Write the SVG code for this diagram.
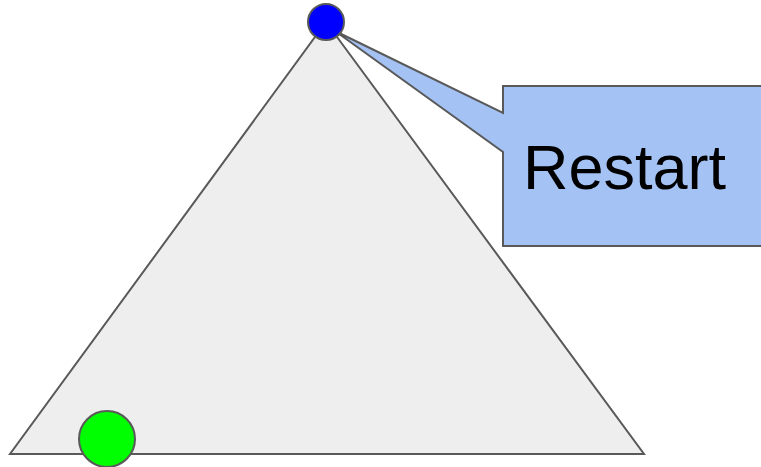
<svg xmlns="http://www.w3.org/2000/svg" width="761" height="467" viewBox="0 0 761 467">
<style>
.shape{stroke:#595959;stroke-width:2;stroke-linejoin:miter}
.lbl{font-family:"Liberation Sans",Arial,sans-serif;font-size:63px;fill:#000}
</style>
<rect width="761" height="467" fill="#ffffff"/>
<g id="triangle">
<polygon class="shape" points="326,22 644,454 10,454" fill="#eeeeee"/>
</g>
<g id="restart-callout">
<path class="shape" d="M503,86 H775 V246 H503 V152 L335,31 L503,113 Z" fill="#a4c2f4"/>
<text class="lbl" x="523" y="189">Restart</text>
</g>
<g id="blue-node">
<circle class="shape" cx="326" cy="22" r="18" fill="#0000ff"/>
</g>
<g id="green-node">
<circle class="shape" cx="107" cy="439" r="28" fill="#00ff00"/>
</g>
<g id="connectors"></g>
</svg>
